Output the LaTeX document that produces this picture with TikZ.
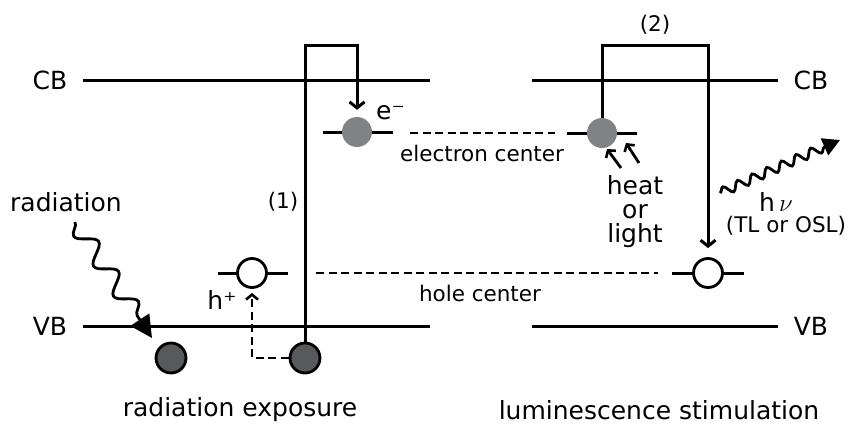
\documentclass[tikz,border=0pt]{standalone}
\usepackage{fontspec}
\setmainfont{DejaVu Sans}
\usetikzlibrary{arrows.meta,decorations.pathmorphing}
\definecolor{egray}{RGB}{128,130,133}
\definecolor{vgray}{RGB}{88,89,91}
\begin{document}
\begin{tikzpicture}[x=1pt,y=-1pt,
  band/.style={line width=3pt},
  conn/.style={line width=3pt},
  dashline/.style={line width=2.6pt, dash pattern=on 8pt off 4.5pt},
  big/.style={font=\fontsize{25}{25}\selectfont, inner sep=0pt},
  small/.style={font=\fontsize{21.5}{21.5}\selectfont, inner sep=0pt},
  ecirc/.style={circle, fill=egray, minimum size=30pt, inner sep=0pt},
  hcirc/.style={circle, draw, line width=2.8pt, fill=white, minimum size=29pt, inner sep=0pt},
  vcirc/.style={circle, draw, line width=2.8pt, fill=vgray, minimum size=30pt, inner sep=0pt},
  barb/.style={-{Straight Barb[length=6pt,width=15pt,line width=3pt]}},
  smallbarb/.style={-{Straight Barb[length=5pt,width=12pt,line width=2.6pt]}},
  wave/.style={line width=2.8pt, decorate},
]
\useasboundingbox (0,0) rectangle (853,431);
% bands
\coordinate (cbL1) at (83,80);  \coordinate (cbL2) at (430,80);
\coordinate (vbL1) at (83,326); \coordinate (vbL2) at (430,326);
\coordinate (cbR1) at (532,80); \coordinate (cbR2) at (778,80);
\coordinate (vbR1) at (532,326);\coordinate (vbR2) at (778,326);
\draw[band] (cbL1) -- (cbL2);
\draw[band] (vbL1) -- (vbL2);
\draw[band] (cbR1) -- (cbR2);
\draw[band] (vbR1) -- (vbR2);
% level lines
\coordinate (leL1) at (323,132); \coordinate (leL2) at (393,132);
\coordinate (leR1) at (567,133); \coordinate (leR2) at (637,133);
\coordinate (lhL1) at (218,273); \coordinate (lhL2) at (288,273);
\coordinate (lhR1) at (672,273); \coordinate (lhR2) at (744,273);
\draw[band] (leL1) -- (leL2);
\draw[band] (leR1) -- (leR2);
\draw[band] (lhL1) -- (lhL2);
\draw[band] (lhR1) -- (lhR2);
% dashed centre lines
\coordinate (ed1) at (410,133); \coordinate (ed2) at (555,133);
\coordinate (hd1) at (316,273); \coordinate (hd2) at (658,273);
\draw[dashline] (ed1) -- (ed2);
\draw[dashline] (hd1) -- (hd2);
% circles
\node[ecirc] (eL) at (357,132) {};
\node[ecirc] (eR) at (602,133) {};
\node[hcirc] (hL) at (252,273) {};
\node[hcirc] (hR) at (708,273) {};
\node[vcirc] (v1) at (171,358) {};
\node[vcirc] (v2) at (305,358) {};
% transitions
\coordinate (t1) at (305,45);
\coordinate (t2) at (602,45);
\draw[conn, barb, shorten >=7pt] (v2.north) -- (t1) -| (eL.north);
\draw[conn, barb, shorten >=9pt] (eR.north) -- (t2) -| (hR.north);
\draw[dashline, smallbarb, shorten >=4pt] (v2.west) -| (hL.south);
% heat or light arrows
\coordinate (ha1) at (621,168); \coordinate (hb1) at (607,149);
\coordinate (ha2) at (639,163); \coordinate (hb2) at (626,143);
\draw[line width=2.8pt, smallbarb] (ha1) -- (hb1);
\draw[line width=2.8pt, smallbarb] (ha2) -- (hb2);
% radiation wave
\coordinate (rw1) at (75,222); \coordinate (rw2) at (152,338);
\draw[wave, decoration={snake, mirror, amplitude=9pt, segment length=36pt, post length=20pt}, -{Triangle[length=22pt,width=22pt]}] (rw1) -- (rw2);
% photon wave
\coordinate (pw1) at (720,193); \coordinate (pw2) at (840,140);
\draw[wave, decoration={snake, amplitude=4.5pt, segment length=16pt, post length=12pt}, -{Triangle[length=17pt,width=18pt]}] (pw1) -- (pw2);
% labels
\node[big] (cbl) at (50,80) {CB};
\node[big] (vbl) at (50,326) {VB};
\node[big] (cbr) at (811,80) {CB};
\node[big] (vbr) at (811,326) {VB};
\node[big] (rad) at (66,202) {radiation};
\node[small] (one) at (283,202) {(1)};
\node[small] (two) at (655,25) {(2)};
\node[big, anchor=west] (em) at (376,113) {e⁻};
\node[big] (hp) at (222,300) {h⁺};
\node[small] (ec) at (482,153) {electron center};
\node[small] (hc) at (480,293) {hole center};
\node[big, align=center, font=\fontsize{25}{24}\selectfont] (heat) at (635,212) {heat\\or\\light};
\node[big] (hnu) at (776,202) {h\,$\nu$};
\node[small] (tl) at (786,226) {(TL or OSL)};
\node[big] (rexp) at (240,410) {radiation exposure};
\node[big] (lum) at (659,410) {luminescence stimulation};
\end{tikzpicture}
\end{document}
